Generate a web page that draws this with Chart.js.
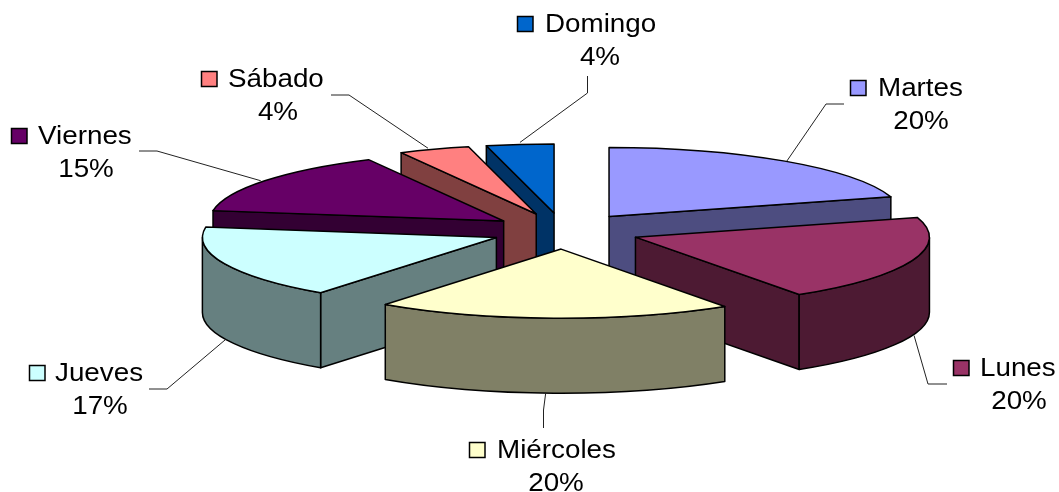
<!DOCTYPE html>
<html lang="es">
<head>
<meta charset="utf-8">
<title>Días de la semana</title>
<style>
html,body{margin:0;padding:0;background:#fff;overflow:hidden}
canvas{display:block}
</style>
<script src="https://cdn.jsdelivr.net/npm/chart.js@4"></script>
</head>
<body>
<canvas id="c" width="1059" height="492"></canvas>
<script>
// Data
const days = ['Martes','Lunes','Miércoles','Jueves','Viernes','Sábado','Domingo'];
const shares = [20.4,20.2,19.6,17.2,15.0,3.9,3.7];
const topColors = ['#9999FF','#993366','#FFFFCC','#CCFFFF','#660066','#FF8080','#0066CC'];
const wallColors = ['#4D4D80','#4D1A33','#808066','#668080','#330033','#804040','#003366'];

// Presentation
const TILT = 0.235, DEPTH = 75, RADIUS = 294;
const explode = [77,77,77,72,73,77,77];
const paintOrder = [0,6,5,4,3,1,2];
const FONT = '25.5px "Liberation Sans", Arial, sans-serif', STRETCH = 1.09, LINE = 33;
const labelKeyX   = [850,953,469,29,11,201,517];
const labelNameX  = [878,980,497,55,38,228,545];
const labelBase   = [96,376,457.5,381,144,87,32];
const labelPctX   = [921,1019,556,100,86,278,600];
const leaderStart = [[844,104],[947,384],[543.5,428],[149,389],[139,151],[331,95],[587.5,76]];
const leaderBend  = [[826,104],[928,384],[543.5,410],[167,389],[157,151],[349,95],[587.5,93]];
const leaderNudge = [[2,0],[2,0],[-8,0],[1,1],[-4,0],[-6,-1],[0,-2]];

function geometry(arc, i){
  const p = arc.getProps(['x','y','startAngle','endAngle','outerRadius'], true);
  const mid = (p.startAngle + p.endAngle) / 2;
  return {
    ...p, mid,
    ax: p.x + Math.cos(mid) * explode[i],
    ay: p.y + Math.sin(mid) * explode[i] * TILT,
    R: p.outerRadius
  };
}
function rim(g, a, drop){
  return [g.ax + g.R * Math.cos(a), g.ay + g.R * TILT * Math.sin(a) + (drop || 0)];
}
function radialFace(ctx, g, a){
  const [px, py] = rim(g, a);
  ctx.beginPath();
  ctx.moveTo(g.ax, g.ay);
  ctx.lineTo(px, py);
  ctx.lineTo(px, py + DEPTH);
  ctx.lineTo(g.ax, g.ay + DEPTH);
  ctx.closePath();
  ctx.fill(); ctx.stroke();
}
function outerWall(ctx, g, a, b){
  ctx.beginPath();
  ctx.ellipse(g.ax, g.ay, g.R, g.R * TILT, 0, a, b, false);
  ctx.lineTo(...rim(g, b, DEPTH));
  ctx.ellipse(g.ax, g.ay + DEPTH, g.R, g.R * TILT, 0, b, a, true);
  ctx.closePath();
  ctx.fill(); ctx.stroke();
}

const pie3d = {
  id: 'pie3d',
  beforeDatasetDraw(chart, args){
    const ctx = chart.ctx, arcs = chart.getDatasetMeta(args.index).data;
    paintOrder.forEach(i => {
      const arc = arcs[i], g = geometry(arc, i);
      ctx.save();
      ctx.lineJoin = 'round';
      ctx.strokeStyle = '#000';
      ctx.lineWidth = 1.5;
      ctx.fillStyle = wallColors[i];
      if (Math.cos(g.startAngle) < -1e-6) radialFace(ctx, g, g.startAngle);
      if (Math.cos(g.endAngle) > 1e-6) radialFace(ctx, g, g.endAngle);
      const a = Math.max(g.startAngle, 0), b = Math.min(g.endAngle, Math.PI);
      if (b > a) outerWall(ctx, g, a, b);
      // top face: the library's own arc, squashed and moved out
      ctx.save();
      ctx.translate(g.ax, g.ay);
      ctx.scale(1, TILT);
      ctx.translate(-g.x, -g.y);
      arc.draw(ctx);
      ctx.restore();
      ctx.beginPath();
      ctx.moveTo(g.ax, g.ay);
      ctx.ellipse(g.ax, g.ay, g.R, g.R * TILT, 0, g.startAngle, g.endAngle, false);
      ctx.closePath();
      ctx.stroke();
      ctx.restore();
    });
    return false;
  },
  afterDraw(chart){
    const ctx = chart.ctx, arcs = chart.getDatasetMeta(0).data;
    const text = (s, x, y, align) => {
      ctx.save();
      ctx.translate(x, y);
      ctx.scale(STRETCH, 1);
      ctx.textAlign = align;
      ctx.textBaseline = 'alphabetic';
      ctx.font = FONT;
      ctx.fillStyle = '#000';
      ctx.fillText(s, 0, 0);
      ctx.restore();
    };
    days.forEach((day, i) => {
      const g = geometry(arcs[i], i);
      const lower = Math.sin(g.mid) > 0;
      const end = rim(g, g.mid, lower ? DEPTH : 0);
      ctx.beginPath();
      ctx.moveTo(...leaderStart[i]);
      ctx.lineTo(...leaderBend[i]);
      ctx.lineTo(end[0] + leaderNudge[i][0], end[1] + leaderNudge[i][1]);
      ctx.strokeStyle = '#222';
      ctx.lineWidth = 1;
      ctx.stroke();
      ctx.fillStyle = topColors[i];
      ctx.strokeStyle = '#000';
      ctx.lineWidth = 1.5;
      ctx.fillRect(labelKeyX[i] + .5, Math.round(labelBase[i]) - 15.5, 15.5, 15);
      ctx.strokeRect(labelKeyX[i] + .5, Math.round(labelBase[i]) - 15.5, 15.5, 15);
      text(day, labelNameX[i], labelBase[i], 'left');
      text(Math.round(shares[i]) + '%', labelPctX[i], labelBase[i] + LINE, 'center');
    });
  }
};

new Chart(document.getElementById('c'), {
  type: 'pie',
  data: {
    labels: days,
    datasets: [{ data: shares, backgroundColor: topColors, borderWidth: 0, hoverOffset: 0 }]
  },
  options: {
    responsive: false,
    animation: false,
    events: [],
    radius: RADIUS,
    layout: { padding: { left: 67, bottom: 30 } },
    plugins: { legend: { display: false }, tooltip: { enabled: false } }
  },
  plugins: [pie3d, {
    id: 'white',
    beforeDraw(c){ c.ctx.save(); c.ctx.fillStyle = '#fff'; c.ctx.fillRect(0,0,c.width,c.height); c.ctx.restore(); }
  }]
});
</script>
</body>
</html>
